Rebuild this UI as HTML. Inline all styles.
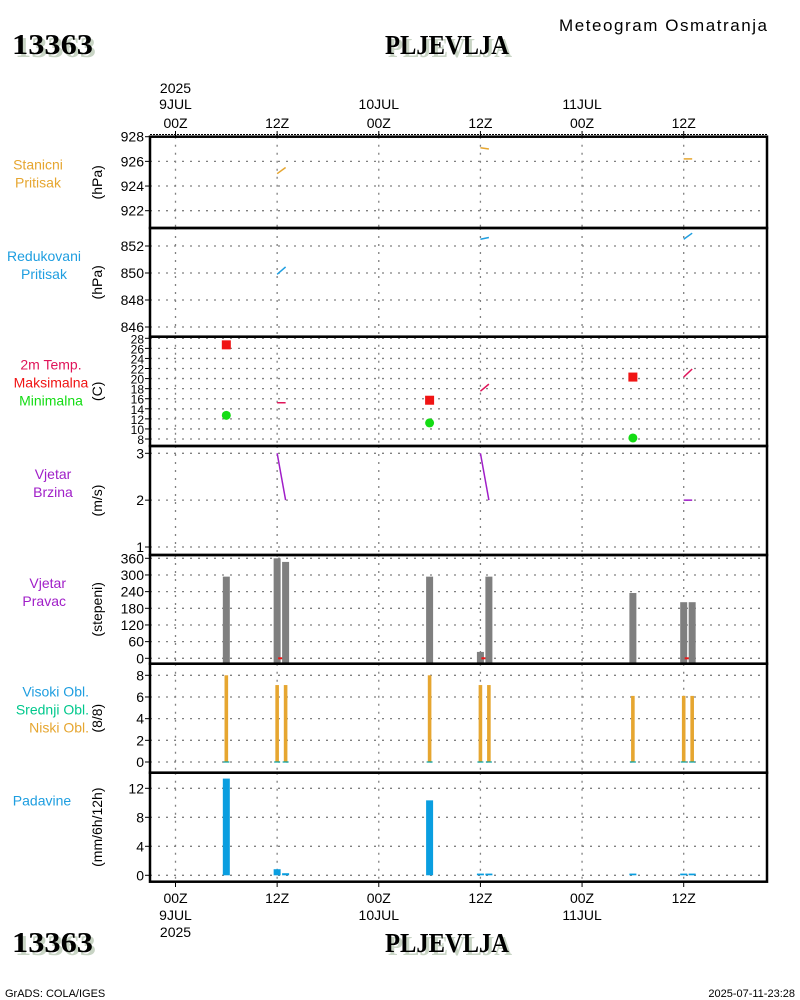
<!DOCTYPE html>
<html><head><meta charset="utf-8">
<style>
html,body{margin:0;padding:0;background:#fff;}
svg{display:block;font-family:"Liberation Sans",sans-serif;}
</style></head>
<body>
<svg id="chart" width="800" height="1000" viewBox="0 0 800 1000" xmlns="http://www.w3.org/2000/svg">
  <rect width="800" height="1000" fill="#fff"/>
  <g>
    <text x="15" y="57" font-family="Liberation Serif, serif" font-weight="bold" font-size="29" fill="#c8d4c4" textLength="81" lengthAdjust="spacingAndGlyphs">13363</text>
    <text x="12" y="54" font-family="Liberation Serif, serif" font-weight="bold" font-size="29" fill="#000" textLength="81" lengthAdjust="spacingAndGlyphs">13363</text>
    <text x="388" y="57" font-family="Liberation Serif, serif" font-weight="bold" font-size="27" fill="#c8d4c4" textLength="124" lengthAdjust="spacingAndGlyphs">PLJEVLJA</text>
    <text x="385" y="54" font-family="Liberation Serif, serif" font-weight="bold" font-size="27" fill="#000" textLength="124" lengthAdjust="spacingAndGlyphs">PLJEVLJA</text>
    <text x="559" y="31" font-size="17" fill="#000" textLength="208">Meteogram Osmatranja</text>
  </g>
  <g>
    <text x="15" y="955" font-family="Liberation Serif, serif" font-weight="bold" font-size="29" fill="#c8d4c4" textLength="81" lengthAdjust="spacingAndGlyphs">13363</text>
    <text x="12" y="952" font-family="Liberation Serif, serif" font-weight="bold" font-size="29" fill="#000" textLength="81" lengthAdjust="spacingAndGlyphs">13363</text>
    <text x="388" y="955" font-family="Liberation Serif, serif" font-weight="bold" font-size="27" fill="#c8d4c4" textLength="124" lengthAdjust="spacingAndGlyphs">PLJEVLJA</text>
    <text x="385" y="952" font-family="Liberation Serif, serif" font-weight="bold" font-size="27" fill="#000" textLength="124" lengthAdjust="spacingAndGlyphs">PLJEVLJA</text>
    <text x="5" y="997" font-size="11" fill="#000">GrADS: COLA/IGES</text>
    <text x="795" y="997" font-size="11" fill="#000" text-anchor="end">2025-07-11-23:28</text>
  </g>
  <g id="plots"></g>
</svg>
<script>
// ---- data (hours since 9JUL 00Z) ----
var timeTicks = [0, 12, 24, 36, 48, 60];
var timeLabels = ["00Z", "12Z", "00Z", "12Z", "00Z", "12Z"];
var dateLabels = ["9JUL", "", "10JUL", "", "11JUL", ""];
var obsHours = [6, 12, 13, 30, 36, 37, 54, 60, 61];
var stationPressure = [null, 925.0, 925.5, null, 927.1, 927.0, null, 926.2, 926.2];
var reducedPressure = [null, 849.9, 850.45, null, 852.5, 852.63, null, 852.5, 852.95];
var temp2m = [null, 15.2, 15.2, null, 17.5, 18.9, null, 20.3, 21.9];
var tempMax = [26.7, null, null, 15.7, null, null, 20.3, null, null];
var tempMin = [12.7, null, null, 11.2, null, null, 8.2, null, null];
var windSpeed = [null, 3.0, 2.0, null, 3.0, 2.0, null, 2.0, 2.0];
var windDir = [294, 360, 347, 294, 23, 294, 235, 202, 202];
var lowCloud = [8, 7.1, 7.1, 8, 7.1, 7.1, 6.1, 6.1, 6.1];
var precip = [13.2, 0.7, 0.15, 10.2, 0.1, 0.1, 0.1, 0.1, 0.1];
var ticksP1 = [928, 926, 924, 922];
var ticksP2 = [852, 850, 848, 846];
var ticksP3 = [28, 26, 24, 22, 20, 18, 16, 14, 12, 10, 8];
var ticksP4 = [3, 2, 1];
var ticksP5 = [360, 300, 240, 180, 120, 60, 0];
var ticksP6 = [8, 6, 4, 2, 0];
var ticksP7 = [12, 8, 4, 0];

var NS = "http://www.w3.org/2000/svg";
var root = document.getElementById("plots");
var X0 = 150, X1 = 767;
function xT(h){ return 175.5 + h * 8.47; }
function mk(tag, attrs, parent){
  var e = document.createElementNS(NS, tag);
  for (var k in attrs) e.setAttribute(k, attrs[k]);
  (parent || root).appendChild(e);
  return e;
}
function lin(v0, p0, v1, p1){ return function(v){ return p0 + (v - v0) * (p1 - p0) / (v1 - v0); }; }

var panels = [
  {name:"station-pressure", top:136.7, bot:228, y:lin(928,136.7,922,210.7), ticks:ticksP1, unit:"(hPa)", lx:38, la:"middle", labels:[["Stanicni","#e6a630"],["Pritisak","#e6a630"]]},
  {name:"reduced-pressure", top:228, bot:336.7, y:lin(852,246,846,327), ticks:ticksP2, unit:"(hPa)", lx:44, la:"middle", labels:[["Redukovani","#1e9ee0"],["Pritisak","#1e9ee0"]]},
  {name:"temperature", top:336.7, bot:446, y:lin(28,338.3,8,439), ticks:ticksP3, unit:"(C)", lx:51, la:"middle", labels:[["2m Temp.","#e0145a"],["Maksimalna","#f01414"],["Minimalna","#14dc14"]]},
  {name:"wind-speed", top:446, bot:555, y:lin(3,453.3,1,547), ticks:ticksP4, unit:"(m/s)", lx:53, la:"middle", labels:[["Vjetar","#a01ec8"],["Brzina","#a01ec8"]]},
  {name:"wind-direction", top:555, bot:663.7, y:lin(360,558.3,0,658.3), ticks:ticksP5, unit:"(stepeni)", lx:66, la:"end", labels:[["Vjetar","#a01ec8"],["Pravac","#a01ec8"]]},
  {name:"cloud-cover", top:663.7, bot:772.7, y:lin(8,675.3,0,762), ticks:ticksP6, unit:"(8/8)", lx:89, la:"end", labels:[["Visoki Obl.","#1e9ee0"],["Srednji Obl.","#00c88c"],["Niski Obl.","#e6a630"]]},
  {name:"precipitation", top:772.7, bot:881.7, y:lin(12,788.3,0,875.3), ticks:ticksP7, unit:"(mm/6h/12h)", lx:42, la:"middle", labels:[["Padavine","#1e9ee0"]]}
];

panels.forEach(function(p){
  var g = mk("g", {});
  
  
  p.g = g;
  p.ticks.forEach(function(t){
    var yy = p.y(t);
    var gl = mk("line", {x1:X0, x2:X1, y1:yy, y2:yy, stroke:"#808080", "stroke-width":1.3, "stroke-dasharray":"2,6"}, g);
    
    
    mk("line", {x1:X0-5, x2:X0, y1:yy, y2:yy, stroke:"#000", "stroke-width":1}, g);
    var tl = mk("text", {x:X0-6, y:yy+5, "font-size":(p.ticks.length>8?12:14), "text-anchor":"end", fill:"#000"}, g);
    tl.textContent = t;
    
    
  });
  timeTicks.forEach(function(h){
    var vl = mk("line", {x1:xT(h), x2:xT(h), y1:p.top, y2:p.bot, stroke:"#808080", "stroke-width":1.3, "stroke-dasharray":"2,6"}, g);
    
    
  });
  var cy = (p.top + p.bot) / 2;
  var ul = mk("text", {x:0, y:0, "font-size":14, "text-anchor":"middle", fill:"#000", transform:"translate(102," + cy + ") rotate(-90)"}, g);
  ul.textContent = p.unit;
  
  
  var lh = 18;
  p.labels.forEach(function(l, i){
    var st = mk("text", {x:p.lx, y:p.top + 33 + i*lh, "font-size":14, "text-anchor":p.la, fill:l[1]}, g);
    st.textContent = l[0];
    
    
  });
});

function P(name){ for (var i=0;i<panels.length;i++) if (panels[i].name===name) return panels[i]; }

function segments(p, vals, color, label){
  for (var i=0;i<obsHours.length-1;i++){
    if (vals[i]!=null && vals[i+1]!=null && obsHours[i+1]-obsHours[i]===1){
      var s = mk("line", {x1:xT(obsHours[i]), y1:p.y(vals[i]), x2:xT(obsHours[i+1]), y2:p.y(vals[i+1]), stroke:color, "stroke-width":1.5}, p.g);
      
      
    }
  }
}
segments(P("station-pressure"), stationPressure, "#e6a630", "station-pressure-line");
segments(P("reduced-pressure"), reducedPressure, "#1e9ee0", "reduced-pressure-line");
segments(P("temperature"), temp2m, "#e0145a", "temperature-line");
segments(P("wind-speed"), windSpeed, "#a01ec8", "wind-speed-line");

var pt = P("temperature");
obsHours.forEach(function(h, i){
  if (tempMax[i]!=null){
    var r = mk("rect", {x:xT(h)-4.5, y:pt.y(tempMax[i])-4.5, width:9, height:9, fill:"#f01414"}, pt.g);
    
    
  }
  if (tempMin[i]!=null){
    var c = mk("circle", {cx:xT(h), cy:pt.y(tempMin[i]), r:4.5, fill:"#14dc14"}, pt.g);
    
    
  }
});

var pw = P("wind-direction");
obsHours.forEach(function(h, i){
  var y = pw.y(Math.min(windDir[i], 360));
  var b = mk("rect", {x:xT(h)-3.5, y:y, width:7, height:pw.bot - y, fill:"#7f7f7f"}, pw.g);
  
  
  if (i < obsHours.length-1 && obsHours[i+1]-h===1){
    var rd = mk("line", {x1:xT(h)+1, x2:xT(h+1), y1:pw.y(0), y2:pw.y(0), stroke:"#f01414", "stroke-width":2}, pw.g);
    
    
  }
});

var pc = P("cloud-cover");
obsHours.forEach(function(h, i){
  var y = pc.y(lowCloud[i]);
  var b = mk("rect", {x:xT(h)-1.8, y:y, width:3.6, height:pc.y(0) - y, fill:"#e6a630"}, pc.g);
  
  
  var t = mk("line", {x1:xT(h)-3, x2:xT(h)+3, y1:pc.y(0), y2:pc.y(0), stroke:"#00a0a0", "stroke-width":1.2}, pc.g);
  
  
});

var pp = P("precipitation");
obsHours.forEach(function(h, i){
  var y = pp.y(precip[i]);
  var b = mk("rect", {x:xT(h)-3.5, y:y-1, width:7, height:Math.max(pp.y(0)-y+1, 1.5), fill:"#0a9ee0"}, pp.g);
  
  
});

panels.forEach(function(p){
  var f = mk("rect", {x:X0, y:p.top, width:X1-X0, height:p.bot-p.top, fill:"none", stroke:"#000", "stroke-width":2.5}, p.g);
  
  
});
var dl = mk("line", {x1:X0, x2:X1, y1:134.5, y2:134.5, stroke:"#000", "stroke-width":1, "stroke-dasharray":"2,1"});



timeTicks.forEach(function(h, i){
  var x = xT(h);
  mk("line", {x1:x, x2:x, y1:131, y2:137, stroke:"#000", "stroke-width":1});
  mk("line", {x1:x, x2:x, y1:881, y2:887, stroke:"#000", "stroke-width":1});
  var t1 = mk("text", {x:x, y:128, "font-size":14, "text-anchor":"middle", fill:"#000"});
  t1.textContent = timeLabels[i];
  
  
  var b1 = mk("text", {x:x, y:903, "font-size":14, "text-anchor":"middle", fill:"#000"});
  b1.textContent = timeLabels[i];
  
  
  if (dateLabels[i]){
    var t2 = mk("text", {x:x, y:109, "font-size":14, "text-anchor":"middle", fill:"#000"});
    t2.textContent = dateLabels[i];
    
    
    var b2 = mk("text", {x:x, y:920, "font-size":14, "text-anchor":"middle", fill:"#000"});
    b2.textContent = dateLabels[i];
    
    
  }
});
var y1 = mk("text", {x:xT(0), y:93, "font-size":14, "text-anchor":"middle", fill:"#000"});
y1.textContent = "2025";


var y2 = mk("text", {x:xT(0), y:937, "font-size":14, "text-anchor":"middle", fill:"#000"});
y2.textContent = "2025";


</script>
</body></html>
